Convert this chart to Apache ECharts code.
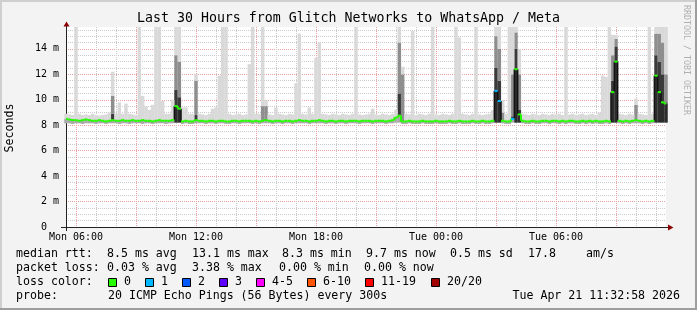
<!DOCTYPE html>
<html><head><meta charset="utf-8">
<script src="https://cdn.jsdelivr.net/npm/echarts@6/dist/echarts.min.js"></script>
<style>html,body{margin:0;padding:0;background:#f3f3f3}#c{width:697px;height:310px}</style>
</head><body><div id="c"></div>
<script>
// ---------- data (10-minute bins from Mon 05:30 to Tue 11:30) ----------
const xTickLabels = ['Mon 06:00', 'Mon 12:00', 'Mon 18:00', 'Tue 00:00', 'Tue 06:00'];
const yMaxMs = 15.72;

// median rtt (ms)
const medianRtt = [
  8.5,8.45,8.4,8.4,8.35,8.4,8.45,8.4,8.35,8.35,8.4,8.35,8.3,8.35,8.4,8.35,8.35,8.4,
  8.35,8.35,8.4,8.35,8.35,8.4,8.35,8.35,8.3,8.35,8.4,8.35,8.35,8.35,8.4,9.5,9.3,8.3,
  8.35,8.3,8.3,8.4,8.35,8.35,8.3,8.35,8.35,8.3,8.35,8.35,8.3,8.3,8.35,8.35,8.3,8.35,
  8.35,8.35,8.3,8.35,8.3,8.35,8.4,8.35,8.3,8.35,8.35,8.3,8.35,8.35,8.3,8.35,8.4,8.35,
  8.35,8.3,8.35,8.35,8.4,8.35,8.3,8.35,8.35,8.3,8.35,8.35,8.3,8.35,8.35,8.35,8.3,8.35,
  8.35,8.35,8.3,8.35,8.35,8.35,8.3,8.35,8.4,8.6,8.75,8.3,8.3,8.35,8.3,8.3,8.3,8.35,
  8.3,8.3,8.3,8.35,8.3,8.3,8.3,8.35,8.3,8.3,8.35,8.3,8.3,8.3,8.35,8.3,8.3,8.35,
  8.3,8.3,8.35,10.7,9.9,8.35,8.3,8.3,8.5,12.4,8.85,8.35,8.3,8.3,8.35,8.3,8.3,8.35,
  8.35,8.3,8.35,8.35,8.3,8.35,8.3,8.35,8.35,8.3,8.3,8.35,8.3,8.35,8.3,8.35,8.3,8.3,
  8.35,8.3,10.6,13.0,8.35,8.3,8.35,8.3,8.35,8.4,8.35,8.3,8.35,8.3,8.35,11.9,10.6,9.8,
  9.7
];
// lowest ping of each bin (ms)
const pingLow = [
  8.15,8.15,8.1,8.15,8.15,8.1,8.15,8.15,8.15,8.1,8.15,8.15,8.1,8.15,8.15,8.15,8.1,8.15,
  8.15,8.1,8.15,8.15,8.15,8.1,8.15,8.15,8.1,8.15,8.15,8.15,8.1,8.15,8.15,8.2,8.2,8.1,
  8.15,8.1,8.1,8.15,8.15,8.15,8.1,8.15,8.15,8.1,8.15,8.15,8.1,8.1,8.15,8.15,8.1,8.15,
  8.15,8.15,8.1,8.15,8.1,8.15,8.15,8.15,8.1,8.15,8.15,8.1,8.15,8.15,8.1,8.15,8.15,8.15,
  8.15,8.1,8.15,8.15,8.15,8.15,8.1,8.15,8.15,8.1,8.15,8.15,8.1,8.15,8.15,8.15,8.1,8.15,
  8.15,8.15,8.1,8.15,8.15,8.15,8.1,8.15,8.15,8.2,8.2,8.1,8.1,8.15,8.1,8.1,8.1,8.15,
  8.1,8.1,8.1,8.15,8.1,8.1,8.1,8.15,8.1,8.1,8.15,8.1,8.1,8.1,8.15,8.1,8.1,8.15,
  8.1,8.1,8.15,8.2,8.2,8.15,8.1,8.1,8.2,8.2,8.2,8.15,8.1,8.1,8.15,8.1,8.1,8.15,
  8.15,8.1,8.15,8.15,8.1,8.15,8.1,8.15,8.15,8.1,8.1,8.15,8.1,8.15,8.1,8.15,8.1,8.1,
  8.15,8.1,8.2,8.2,8.15,8.1,8.15,8.1,8.15,8.15,8.15,8.1,8.15,8.1,8.15,8.2,8.2,8.2,
  8.2
];
// highest ping of each bin (ms); 15.8 = beyond the top of the graph
const pingHigh = [
  8.9,8.85,8.8,15.8,8.9,8.8,8.85,8.8,8.9,8.8,8.75,8.8,8.85,9.0,12.2,8.9,9.8,8.9,
  9.7,8.9,8.85,8.8,15.8,10.3,9.5,9.2,9.6,15.8,15.8,9.9,8.9,8.9,10.0,15.8,15.8,9.4,
  9.4,8.9,8.9,12.0,8.9,8.85,8.8,8.9,9.3,9.4,11.9,15.8,15.8,8.9,8.8,8.85,8.9,8.8,
  8.85,12.8,15.8,8.9,8.9,15.8,10.0,8.85,8.8,9.4,8.9,8.85,8.8,8.9,8.85,11.3,15.2,8.9,
  8.85,9.4,8.9,13.3,14.5,8.9,8.85,8.8,8.9,8.85,8.8,8.9,8.85,8.8,8.9,15.8,8.85,8.8,
  8.85,8.9,9.3,8.85,8.8,8.9,8.85,8.8,8.9,9.2,15.8,12.6,8.9,8.85,15.4,8.8,8.9,8.85,
  8.8,8.9,15.8,8.85,8.8,8.9,8.85,8.8,8.9,15.8,14.9,8.9,8.85,8.8,8.9,15.8,8.85,8.8,
  8.85,8.9,9.2,15.8,15.8,10.0,8.9,15.8,15.8,15.8,14.0,8.9,8.85,8.8,8.9,8.85,8.8,8.9,
  8.85,8.8,8.9,8.85,8.9,8.8,15.8,8.85,8.9,8.8,8.85,8.9,8.8,8.85,8.9,8.8,9.0,11.9,
  11.8,15.8,15.1,15.1,8.9,8.85,8.8,8.9,8.85,10.1,8.9,8.85,8.8,15.8,8.9,15.8,15.8,15.8,
  15.8
];
// top of the dark smoke core above the median, for bins that have one: [bin, ms]
const darkCoreTop = [[14,8.9],[33,10.8],[34,10.2],[39,8.8],[100,10.5],[129,12.5],[130,11.5],
  [134,8.7],[135,14.0],[136,9.2],[164,11.5],[165,14.2],[177,13.5],[178,13.0],[179,12.0],[180,9.8]];
// top of the medium grey smoke band: [bin, ms]
const greyBandTop = [[14,10.3],[33,13.5],[34,13.0],[39,11.5],[59,9.5],[60,9.5],[100,14.5],[101,12.0],
  [129,15.0],[130,14.0],[131,9.0],[134,12.0],[135,15.3],[136,12.0],[164,13.5],[165,14.8],[171,9.6],
  [177,15.2],[178,15.2],[179,14.5],[180,12.0]];
// bins with lost packets: [bin, loss class index]
const lossBins = [[129,1],[130,1],[134,1]];

const lossLabels = ['0','1','2','3','4-5','6-10','11-19','20/20'];
const lossColors = ['#26ff00','#00b8ff','#0059ff','#5e00ff','#ff00ff','#ff5500','#ff0000','#a10000'];

// ---------- categories ----------
const dayNames = ['Mon','Tue'];
const categories = [];
for (let i = 0; i < medianRtt.length; i++) {
  const m = 5 * 60 + 30 + i * 10;
  const mm = m % 1440;
  categories.push(dayNames[Math.floor(m / 1440)] + ' ' + String(Math.floor(mm / 60)).padStart(2, '0') + ':' + String(mm % 60).padStart(2, '0'));
}

// ---------- build stacked smoke layers ----------
const darkMap = Object.fromEntries(darkCoreTop);
const greyMap = Object.fromEntries(greyBandTop);
const lossMap = Object.fromEntries(lossBins);
const sBase = [], sLow = [], sDark = [], sGrey = [], sLight = [], sMedian = [];
for (let k = 0; k < medianRtt.length; k++) {
  const lo = pingLow[k], med = medianRtt[k];
  const dk = darkMap[k] !== undefined ? darkMap[k] : med;
  const gr = greyMap[k] !== undefined ? greyMap[k] : dk;
  const hi = pingHigh[k];
  sBase.push(lo);
  sLow.push({ value: +(med - lo).toFixed(3), itemStyle: { color: med - lo > 0.6 ? '#2c2c2c' : '#a9a9a9' } });
  sDark.push(+(dk - med).toFixed(3));
  sGrey.push(+(gr - dk).toFixed(3));
  sLight.push(+Math.max(0, hi - gr).toFixed(3));
  const next = k + 1 < medianRtt.length ? medianRtt[k + 1] : med;
  sMedian.push([k, med, next, lossMap[k] || 0]);
}

const MONO = 'DejaVu Sans Mono';
const RED = '#eba0a0', GREY = '#cbcbcb';
const BW = 3.5;
function barLayer(name, data, color) {
  return { name, type: 'bar', stack: 'smoke', data, barWidth: BW, itemStyle: { color },
    silent: true, animation: false, clip: true, z: 2 };
}

// ---------- legend graphics ----------
const LFS = 11.6;
function txt(text, x, y, extra) {
  return Object.assign({ type: 'text', x, y, silent: true,
    style: Object.assign({ text, fontSize: LFS, fontFamily: MONO, fill: '#000', align: 'left', verticalAlign: 'middle' }, extra || {}) });
}
const graphics = [
  { type: 'rect', shape: { x: 0, y: 0, width: 697, height: 2 }, style: { fill: '#cfcfcf' }, silent: true },
  { type: 'rect', shape: { x: 0, y: 0, width: 2, height: 310 }, style: { fill: '#cfcfcf' }, silent: true },
  { type: 'rect', shape: { x: 0, y: 308, width: 697, height: 2 }, style: { fill: '#9e9e9e' }, silent: true },
  { type: 'rect', shape: { x: 695, y: 0, width: 2, height: 310 }, style: { fill: '#9e9e9e' }, silent: true },
  txt('Last 30 Hours from Glitch Networks to WhatsApp / Meta', 348.5, 18.5, { fontSize: 13.25, align: 'center' }),
  Object.assign(txt('Seconds', 10, 128, { align: 'center' }), { rotation: Math.PI / 2 }),
  Object.assign(txt('RRDTOOL / TOBI OETIKER', 686.5, 60, { align: 'center', fontSize: 8.3, fill: '#b0b0b0' }), { rotation: -Math.PI / 2 }),
  // axis extensions and arrows
  { type: 'line', shape: { x1: 61, y1: 227.5, x2: 66, y2: 227.5 }, style: { stroke: '#222', lineWidth: 1 }, silent: true },
  { type: 'line', shape: { x1: 666, y1: 227.5, x2: 669, y2: 227.5 }, style: { stroke: '#222', lineWidth: 1 }, silent: true },
  { type: 'line', shape: { x1: 66.5, y1: 227, x2: 66.5, y2: 231 }, style: { stroke: '#222', lineWidth: 1 }, silent: true },
  { type: 'line', shape: { x1: 66.5, y1: 24, x2: 66.5, y2: 27 }, style: { stroke: '#222', lineWidth: 1 }, silent: true },
  { type: 'polygon', shape: { points: [[668, 224.5], [673.5, 227.5], [668, 230.5]] }, style: { fill: '#8b0000' }, silent: true, z: 10 },
  { type: 'polygon', shape: { points: [[63.5, 26.5], [66.5, 21.5], [69.5, 26.5]] }, style: { fill: '#8b0000' }, silent: true, z: 10 },
  // legend lines
  txt('median rtt:', 16, 254), txt('8.5 ms avg', 107, 254), txt('13.1 ms max', 192, 254), txt('8.3 ms min', 282, 254),
  txt('9.7 ms now', 366, 254), txt('0.5 ms sd', 450, 254), txt('17.8', 528, 254), txt('am/s', 586, 254),
  txt('packet loss:', 16, 268), txt('0.03 % avg', 107, 268), txt('3.38 % max', 192, 268), txt('0.00 % min', 279, 268), txt('0.00 % now', 364, 268),
  txt('loss color:', 16, 282),
  txt('probe:', 16, 296), txt('20 ICMP Echo Pings (56 Bytes) every 300s', 108, 296),
  txt('Tue Apr 21 11:32:58 2026', 680, 296, { align: 'right' })
];
const swatchX = [108, 145, 182, 219, 256, 307, 365, 431];
lossLabels.forEach((lab, i) => {
  graphics.push({ type: 'rect', shape: { x: swatchX[i] + 0.5, y: 278.5, width: 8, height: 8 },
    style: { fill: lossColors[i], stroke: '#000', lineWidth: 1 }, silent: true });
  graphics.push(txt(lab, swatchX[i] + 16, 282));
});

// ---------- chart ----------
const chart = echarts.init(document.getElementById('c'), null, { renderer: 'canvas' });
chart.setOption({
  animation: false,
  backgroundColor: '#f3f3f3',
  grid: { left: 66, top: 27, width: 600, height: 200, show: true, backgroundColor: '#ffffff', borderWidth: 0, containLabel: false },
  xAxis: {
    type: 'category', data: categories, boundaryGap: false,
    axisLine: { show: true, lineStyle: { color: '#222', width: 1 } },
    axisTick: { show: false },
    axisLabel: { interval: (i, v) => xTickLabels.includes(v), fontFamily: MONO, fontSize: 10, color: '#000', margin: 5 },
    splitLine: { show: true, interval: (i, v) => v.endsWith(':00'), lineStyle: { color: [RED, GREY, GREY], type: [1, 1], width: 1 } }
  },
  yAxis: {
    type: 'value', min: 0, max: yMaxMs, interval: 0.5,
    axisLine: { show: true, lineStyle: { color: '#222', width: 1 } },
    axisTick: { show: false },
    axisLabel: { formatter: v => (Math.abs(v % 2) < 1e-9 ? (v === 0 ? '0  ' : v + ' m') : ''),
      fontFamily: MONO, fontSize: 10, color: '#000', margin: 7, showMaxLabel: false },
    splitLine: { show: true, showMaxLine: false, lineStyle: { color: [RED, GREY, GREY, GREY], type: [1, 1], width: 1 } }
  },
  series: [
    barLayer('base', sBase, 'rgba(0,0,0,0)'),
    barLayer('low', sLow, '#a9a9a9'),
    barLayer('dark', sDark, '#3a3a3a'),
    barLayer('grey', sGrey, '#8e8e8e'),
    barLayer('light', sLight, '#d9d9d9'),
    {
      name: 'median', type: 'custom', data: sMedian, clip: true, silent: true, animation: false, z: 6,
      renderItem: function (params, api) {
        const k = api.value(0);
        const p = api.coord([k, api.value(1)]);
        const pn = api.coord([k, api.value(2)]);
        const w = api.size([1, 0])[0];
        const color = lossColors[api.value(3)];
        const jump = Math.abs(api.value(2) - api.value(1)) > 0.6;
        return { type: 'group', children: [
          { type: 'line', z2: 10, shape: { x1: p[0] - w / 2, y1: p[1], x2: p[0] + w / 2, y2: p[1] }, style: { stroke: color, lineWidth: 2 } },
          { type: 'line', z2: 9, shape: { x1: p[0] + w / 2, y1: p[1], x2: p[0] + w / 2, y2: pn[1] }, style: { stroke: jump ? '#111' : color, lineWidth: jump ? 1.5 : 2 } }
        ] };
      }
    }
  ],
  graphic: graphics
});
</script>
</body></html>
